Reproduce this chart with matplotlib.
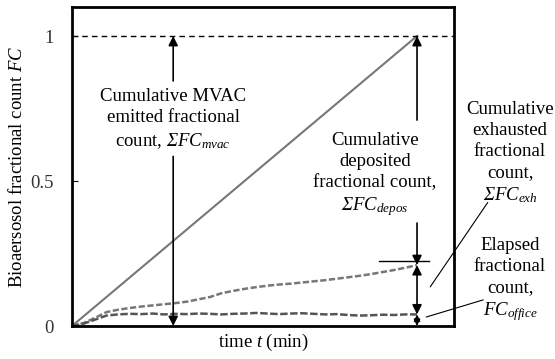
import numpy as np
import matplotlib.pyplot as plt

plt.rcParams['font.family'] = ['Liberation Serif', 'DejaVu Serif']
plt.rcParams['mathtext.fontset'] = 'custom'
plt.rcParams['mathtext.rm'] = 'Liberation Serif'
plt.rcParams['mathtext.it'] = 'Liberation Serif:italic'
plt.rcParams['mathtext.sf'] = 'Liberation Serif:italic'  # italic sigma

# elapsed time (min) and fractional counts
t = [0, 2, 4, 6, 8, 10, 12, 14, 16, 18, 20, 22, 24, 26, 28, 30,
     32, 34, 36, 38, 40, 42, 44, 46, 48, 50, 52, 54, 56, 58, 60]
fc_emitted = [0, 1]
t_emitted = [0, 60]
fc_upper = [0, 0.01, 0.028, 0.048, 0.056, 0.062, 0.067, 0.071, 0.075, 0.079,
            0.084, 0.092, 0.100, 0.113, 0.121, 0.128, 0.134, 0.139, 0.143,
            0.146, 0.150, 0.154, 0.158, 0.163, 0.168, 0.173, 0.179, 0.186,
            0.193, 0.201, 0.210]
fc_office = [0, 0.008, 0.022, 0.036, 0.040, 0.042, 0.041, 0.043, 0.040, 0.042,
             0.041, 0.043, 0.042, 0.040, 0.042, 0.043, 0.045, 0.043, 0.041,
             0.043, 0.044, 0.042, 0.040, 0.041, 0.038, 0.036, 0.037, 0.039,
             0.038, 0.040, 0.040]

fig = plt.figure(figsize=(5.55, 3.59), dpi=100)
ax = fig.add_axes([0.1297, 0.0919, 0.688, 0.8886])

ax.plot(t_emitted, fc_emitted, color='#777777', lw=1.5)
ax.plot(t, fc_upper, color='#777777', lw=1.8, dashes=(2.5, 1))
ax.plot(t, fc_office, color='#555555', lw=1.8, dashes=(3, 1))
ax.axhline(1, color='black', lw=1, dashes=(4, 3))

ax.set_xlim(0, 66.4)
ax.set_ylim(0, 1.1)
ax.set_xticks([])
ax.set_yticks([0, 0.5, 1])
ax.set_yticklabels(['0', '0.5', '1'], fontsize=13.5, color='#333333')
ax.tick_params(axis='y', direction='in', length=4, pad=13)
for s in ax.spines.values():
    s.set_linewidth(2)

ax.set_xlabel('time $\\mathit{t}$ (min)', fontsize=13.5, labelpad=4)
ax.set_ylabel('Bioaersosol fractional count $\\mathit{FC}$', fontsize=13.5,
              labelpad=3)

head = dict(arrowstyle='-|>', color='black', lw=1.2,
            mutation_scale=14, shrinkA=0, shrinkB=0)
ls = 1.3

# emitted count arrows
x1 = 17.6
ax.annotate('', xy=(x1, 1), xytext=(x1, 0.845), arrowprops=head)
ax.annotate('', xy=(x1, 0), xytext=(x1, 0.585), arrowprops=head)
ax.text(x1, 0.712,
        'Cumulative MVAC\nemitted fractional\ncount, $\\mathsf{Σ}\\mathit{FC_{mvac}}$',
        ha='center', va='center', fontsize=13.5, linespacing=ls)

# deposited count arrows
x2 = 60
ax.annotate('', xy=(x2, 1), xytext=(x2, 0.71), arrowprops=head)
ax.annotate('', xy=(x2, fc_upper[-1]), xytext=(x2, 0.355), arrowprops=head)
ax.text(52.7, 0.52,
        'Cumulative\ndeposited\nfractional count,\n$\\mathsf{Σ}\\mathit{FC_{depos}}$',
        ha='center', va='center', fontsize=13.5, linespacing=ls)
ax.plot([53.4, 62.1], [0.224, 0.224], color='black', lw=1)

# exhausted and office arrows
ax.annotate('', xy=(x2, fc_upper[-1]), xytext=(x2, fc_office[-1]),
            arrowprops=dict(arrowstyle='<|-|>', color='black', lw=1.2,
                            mutation_scale=14, shrinkA=0, shrinkB=0))
ax.annotate('', xy=(x2, fc_office[-1]), xytext=(x2, 0),
            arrowprops=dict(arrowstyle='<|-|>', color='black', lw=1.2,
                            mutation_scale=9, shrinkA=0, shrinkB=0))

# leader lines to side labels
ax.annotate('', xy=(62.3, 0.135), xytext=(72.3, 0.426), annotation_clip=False,
            arrowprops=dict(arrowstyle='-', color='black', lw=0.8,
                            shrinkA=0, shrinkB=0))
ax.annotate('', xy=(61.6, 0.031), xytext=(71.5, 0.09), annotation_clip=False,
            arrowprops=dict(arrowstyle='-', color='black', lw=0.8,
                            shrinkA=0, shrinkB=0))

fig.text(510 / 555, 1 - 153 / 359,
         'Cumulative\nexhausted\nfractional\ncount,\n$\\mathsf{Σ}\\mathit{FC_{exh}}$',
         ha='center', va='center', fontsize=13.5, linespacing=ls)
fig.text(510 / 555, 1 - 280 / 359,
         'Elapsed\nfractional\ncount,\n$\\mathit{FC_{office}}$',
         ha='center', va='center', fontsize=13.5, linespacing=ls)

fig.savefig('out.png', dpi=100)
